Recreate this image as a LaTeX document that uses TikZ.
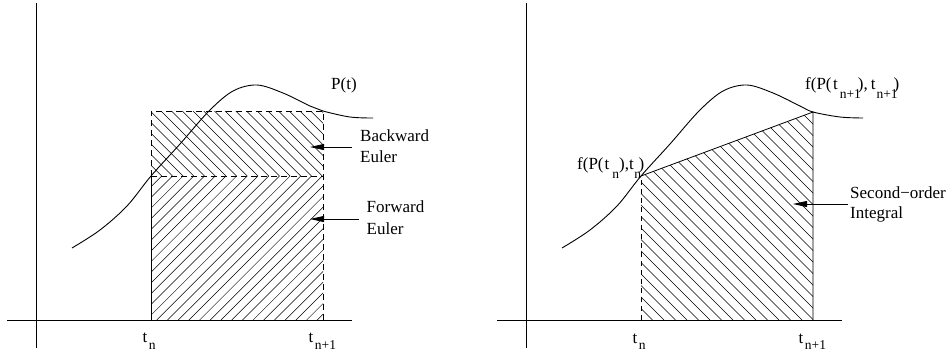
\documentclass[tikz,border=0pt]{standalone}
\usepackage{fontspec}
\setmainfont{Liberation Serif}
\usetikzlibrary{arrows.meta}
\newcommand\lowsub[2][9pt]{\raisebox{-#1}{\fontsize{13.5}{13.5}\selectfont #2}}
\begin{document}
\begin{tikzpicture}[x=1pt,y=-1pt,
  axis/.style={line width=1pt},
  curve/.style={line width=0.9pt},
  edge/.style={line width=0.8pt},
  dashedge/.style={line width=0.8pt, dash pattern=on 6pt off 4pt},
  hatch/.style={line width=0.5pt, black},
  lbl/.style={inner sep=0pt, anchor=base west, font=\fontsize{17}{21}\selectfont},
  ptr/.style={line width=0.8pt, -{Triangle[length=14pt,width=6pt]}},
]
\useasboundingbox (0,0) rectangle (950,354);

% ---------------- left panel ----------------
\coordinate (Lax1) at (36,3);   \coordinate (Lax2) at (36,348);
\coordinate (Lay1) at (7,320);  \coordinate (Lay2) at (352,320);
\coordinate (Lbl) at (151,320); \coordinate (Lbr) at (323,320);
\coordinate (Lml) at (151,176); \coordinate (Lmr) at (323,176);
\coordinate (Ltl) at (151,111); \coordinate (Ltr) at (323,111);

\begin{scope}
  \clip (Ltl) rectangle (Lmr);
  \foreach \k in {0,...,25} \draw[hatch] ({86+\k*10.7},111) -- ++(65,65);
\end{scope}
\begin{scope}
  \clip (Lml) rectangle (Lbr);
  \foreach \k in {0,...,31} \draw[hatch] ({7+\k*10.7},320) -- ++(144,-144);
\end{scope}

\draw[axis] (Lax1) -- (Lax2);
\draw[axis] (Lay1) -- (Lay2);
\draw[dashedge] (Lml) -- (Ltl) -- (Ltr) -- (Lmr);
\draw[dashedge] (Lml) -- (Lmr);
\draw[dashedge] (Lbr) -- (Lmr);
\draw[edge] (Lbl) -- (Lml);

\draw[curve] plot[smooth, tension=0.55] coordinates {(72,248) (100,230) (127,206) (151,176) (180,144) (209,111) (233,91) (257,85) (283,93) (310,106) (323,111) (350,117) (373,118)};

\node[lbl] (Pt) at (331,89.5) {P(t)};
\node[lbl] (bw1) at (360,141) {Backward};
\node[lbl] (bw2) at (360,162) {Euler};
\node[lbl] (fw1) at (366.5,212.5) {Forward};
\node[lbl] (fw2) at (366.5,234) {Euler};
\coordinate (bwS) at (352,147); \coordinate (bwE) at (310,147);
\coordinate (fwS) at (359,219); \coordinate (fwE) at (310,219);
\draw[ptr] (bwS) -- (bwE);
\draw[ptr] (fwS) -- (fwE);

\node[lbl] (tnL) at (142.5,342.5) {t\kern1.5pt\lowsub[6.5pt]{n}};
\node[lbl] (tn1L) at (308.5,342.5) {t\kern1.5pt\lowsub[6.5pt]{n+1}};

% ---------------- right panel ----------------
\coordinate (Rax1) at (526,3);   \coordinate (Rax2) at (526,348);
\coordinate (Ray1) at (497,320); \coordinate (Ray2) at (842,320);
\coordinate (Rbl) at (641,320);  \coordinate (Rbr) at (813,320);
\coordinate (Rtl) at (641,176);  \coordinate (Rtr) at (813,112);

\begin{scope}
  \clip (Rtl) -- (Rtr) -- (Rbr) -- (Rbl) -- cycle;
  \foreach \k in {0,...,35} \draw[hatch] ({421+\k*11.5},100) -- ++(220,220);
\end{scope}

\draw[axis] (Rax1) -- (Rax2);
\draw[axis] (Ray1) -- (Ray2);
\draw[dashedge, dash pattern=on 5pt off 4pt] (Rbl) -- (Rtl);
\draw[edge] (Rtl) -- (Rtr) -- (Rbr);

\begin{scope}[shift={(490,0)}]
\draw[curve] plot[smooth, tension=0.55] coordinates {(72,248) (100,230) (127,206) (151,176) (180,144) (209,111) (233,91) (257,85) (283,93) (310,106) (323,112) (350,117) (373,118)};
\end{scope}

\node[lbl] (fPn) at (577,169) {f(P(\kern1pt t\kern3pt\lowsub{n}),t\kern0.5pt\lowsub{n}\kern-2.5pt)};
\node[lbl] (fPn1) at (805,89) {f(P(\kern1.5pt t\kern2pt\lowsub{n+1}\kern-3pt),\kern3pt t\kern1pt\lowsub{n+1}\kern-4pt)};
\node[lbl] (so1) at (850,198) {Second−order};
\node[lbl] (so2) at (850,218) {Integral};
\coordinate (soS) at (848,204); \coordinate (soE) at (793,204);
\draw[ptr] (soS) -- (soE);

\node[lbl] (tnR) at (632.5,343) {t\kern1.5pt\lowsub[6.5pt]{n}};
\node[lbl] (tn1R) at (798.5,343) {t\kern1.5pt\lowsub[6.5pt]{n+1}};
\end{tikzpicture}
\end{document}
